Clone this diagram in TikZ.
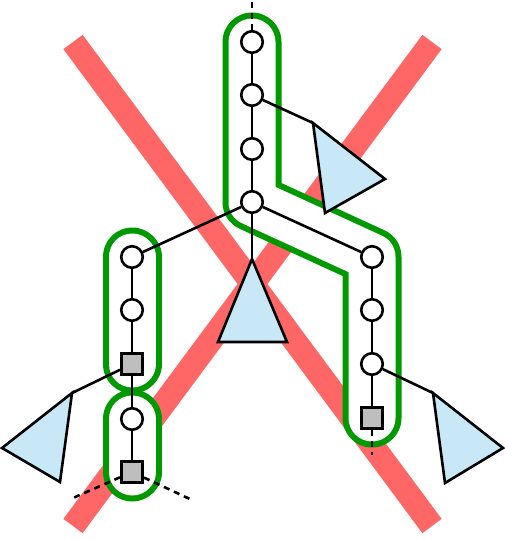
\documentclass[tikz,border=0pt]{standalone}
\usepackage{tikz}
\usetikzlibrary{backgrounds,calc}

\definecolor{crossred}{RGB}{255,102,102}
\definecolor{chaingreen}{RGB}{0,153,0}
\definecolor{treeblue}{RGB}{200,232,248}
\definecolor{leafgray}{RGB}{190,190,190}

\begin{document}
\begin{tikzpicture}[
  x=1pt, y=-1pt,
  vtx/.style={circle, draw, fill=white, line width=2.6pt, minimum size=21.5pt, inner sep=0pt},
  sq/.style={rectangle, draw, fill=leafgray, line width=2.6pt, minimum size=21.5pt, inner sep=0pt},
  tri/.style={draw, fill=treeblue, line width=2.6pt},
  link/.style={line width=2.6pt},
  loose/.style={line width=2.6pt, dash pattern=on 6pt off 5pt},
  cross/.style={draw=crossred, line width=24pt},
  band/.style={line cap=round, line join=round}
]
\useasboundingbox (0,0) rectangle (505,540);

% main spine
\node (v1) [vtx] at (252,42)  {};
\node (v2) [vtx] at (252,95)  {};
\node (v3) [vtx] at (252,149) {};
\node (v4) [vtx] at (252,202) {};

% right branch
\node (r1) [vtx] at (372,257) {};
\node (r2) [vtx] at (372,310) {};
\node (r3) [vtx] at (372,364) {};
\node (rs) [sq]  at (372,418) {};

% left branch
\node (l1)  [vtx] at (132,257) {};
\node (l2)  [vtx] at (132,310) {};
\node (ls1) [sq]  at (132,364) {};
\node (l3)  [vtx] at (132,419) {};
\node (ls2) [sq]  at (132,472) {};

% tips of the subtrees
\coordinate (ta) at (313,123);
\coordinate (tb) at (252,259);
\coordinate (tc) at (433,393);
\coordinate (td) at (72,393);

% free ends of the dashed edges
\coordinate (up)   at (252,-2);
\coordinate (down) at (372,455);
\coordinate (sw)   at (73,498);
\coordinate (se)   at (192,500);

\begin{scope}[on background layer]
  \draw[cross] (73,42) -- (432,526);
  \draw[cross] (432,42) -- (73,526);

  \draw[band, draw=chaingreen, line width=59pt] (v1.center) -- (v4.center) -- (r1.center) -- (rs.center);
  \draw[band, draw=white, line width=47pt]      (v1.center) -- (v4.center) -- (r1.center) -- (rs.center);
  \draw[band, draw=chaingreen, line width=59pt] (l1.center) -- (ls1.center);
  \draw[band, draw=white, line width=47pt]      (l1.center) -- (ls1.center);
  \draw[band, draw=chaingreen, line width=59pt] (l3.center) -- (ls2.center);
  \draw[band, draw=white, line width=47pt]      (l3.center) -- (ls2.center);
\end{scope}

\draw[link] (v1) -- (v2);
\draw[link] (v2) -- (v3);
\draw[link] (v3) -- (v4);
\draw[link] (v4) -- (l1);
\draw[link] (v4) -- (r1);
\draw[link] (r1) -- (r2);
\draw[link] (r2) -- (r3);
\draw[link] (r3) -- (rs);
\draw[link] (l1) -- (l2);
\draw[link] (l2) -- (ls1);
\draw[link] (ls1) -- (l3);
\draw[link] (l3) -- (ls2);

\draw[link] (v2)  -- (ta);
\draw[link] (v4)  -- (tb);
\draw[link] (r3)  -- (tc);
\draw[link] (ls1) -- (td);

\draw[loose] (v1)  -- (up);
\draw[loose] (rs)  -- (down);
\draw[loose] (ls2) -- (sw);
\draw[loose] (ls2) -- (se);

\draw[tri] (ta) -- (385,179) -- (325,213) -- cycle;
\draw[tri] (tb) -- (287,342) -- (218,342) -- cycle;
\draw[tri] (tc) -- (503,448) -- (445,483) -- cycle;
\draw[tri] (td) -- (2,448)   -- (60,482)  -- cycle;
\end{tikzpicture}
\end{document}
